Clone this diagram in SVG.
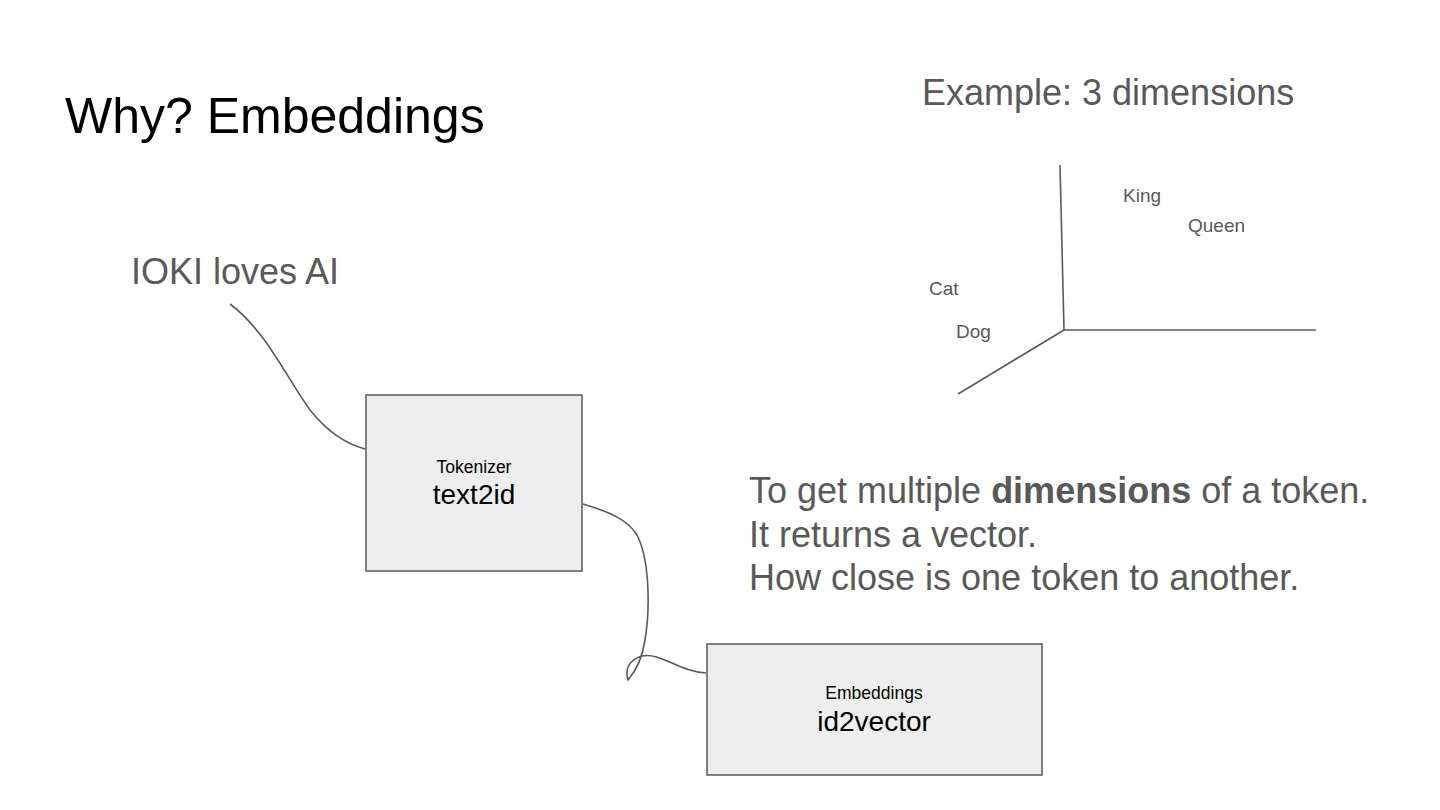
<svg xmlns="http://www.w3.org/2000/svg" width="1440" height="810" viewBox="0 0 1440 810">
<style>
text{font-family:"Liberation Sans",Arial,sans-serif}
.t{fill:#595959}
.box{fill:#eeeeee;stroke:#595959;stroke-width:1.5}
.ln{fill:none;stroke:#595959;stroke-width:1.6}
.axis{fill:none;stroke:#595959;stroke-width:1.6}
.lbl{font-size:19px;fill:#595959}
.small{font-size:17.5px;fill:#000}
.big{font-size:28px;fill:#000}
</style>
<rect width="1440" height="810" fill="#ffffff"/>
<text x="65" y="133" font-size="50" fill="#000000">Why? Embeddings</text>
<text x="922" y="105" font-size="36" class="t">Example: 3 dimensions</text>
<text x="131" y="284" font-size="36" class="t">IOKI loves AI</text>
<g id="axes">
<path class="axis" d="M1060,165 L1064,330 L1316,330 M1064,330 L958,394"/>
<text x="1123" y="202" class="lbl">King</text>
<text x="1188" y="232" class="lbl">Queen</text>
<text x="929" y="295" class="lbl">Cat</text>
<text x="956" y="338" class="lbl">Dog</text>
</g>
<g id="desc" font-size="36" class="t">
<text x="749" y="503" class="t">To get multiple <tspan font-weight="bold">dimensions</tspan> of a token.</text>
<text x="749" y="547" class="t">It returns a vector.</text>
<text x="749" y="590" class="t">How close is one token to another.</text>
</g>
<g id="connectors">
<path class="ln" d="M230,304 C265,330 285,375 310,410 C330,435 350,445 365,449"/>
<path class="ln" d="M583,504 C610,512 628,520 637,535 C650,560 650,610 645,640 C642,660 635,672 628,680 C625,670 628,660 642,656 C660,652 680,672 706,673"/>
</g>
<g id="tokenizer">
<rect class="box" x="366" y="395" width="216" height="176"/>
<text x="474" y="473" text-anchor="middle" class="small">Tokenizer</text>
<text x="474" y="504" text-anchor="middle" class="big">text2id</text>
</g>
<g id="embeddings">
<rect class="box" x="707" y="644" width="335" height="131"/>
<text x="874" y="699" text-anchor="middle" class="small">Embeddings</text>
<text x="874" y="731" text-anchor="middle" class="big">id2vector</text>
</g>
</svg>
